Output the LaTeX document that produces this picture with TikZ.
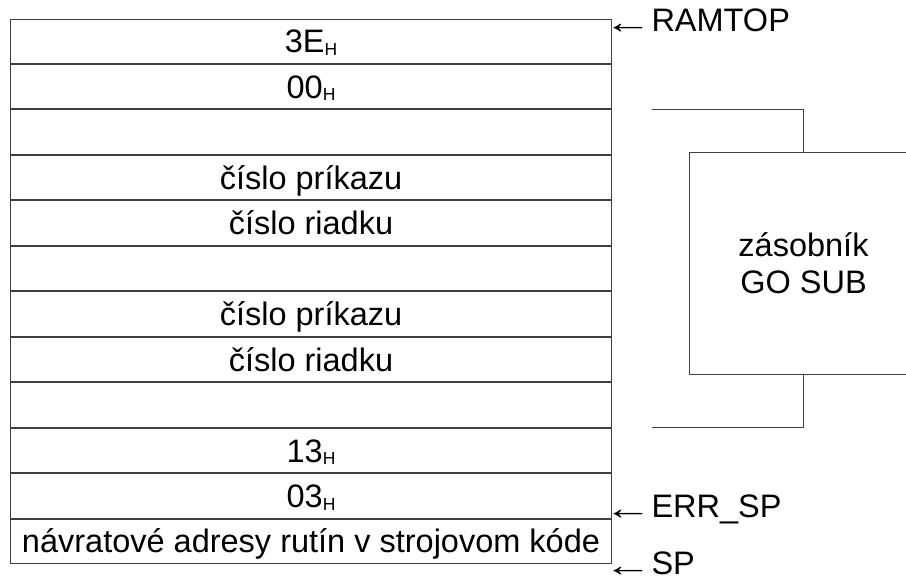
\documentclass[tikz,border=0pt]{standalone}
\usepackage{fontspec}
\setmainfont{Liberation Sans}
\usetikzlibrary{positioning,calc}

% hexadecimal byte with a small H subscript
\newcommand{\hexb}[1]{#1\raisebox{-2.6pt}{\fontsize{17.5}{17.5}\selectfont H}}
% leftward pointer arrow in a fixed-width slot before the label
\newcommand{\ptr}{\makebox[38pt][l]{\hspace*{-10pt}\raisebox{-2pt}{\scalebox{1.5}[1]{←}}}}

\begin{document}
\begin{tikzpicture}[x=1pt,y=-1pt,
    line width=1pt,
    every node/.style={font=\fontsize{32.5}{37}\selectfont},
    cell/.style={draw=black!75, minimum width=601pt, minimum height=44.46pt,
                 inner sep=0pt, text height=23.3pt, text depth=0pt, anchor=north west},
    pointer/.style={anchor=base west, inner sep=0pt},
    link/.style={draw=black!75}]
  \useasboundingbox (0,0) rectangle (906,582);

  % stack cells, from RAMTOP downwards
  \node[cell] (r1) at (10,18.5) {\hexb{3E}};
  \node[cell, below=0pt of r1] (r2) {\hexb{00}};
  \node[cell, below=0pt of r2] (r3) {};
  \node[cell, below=0pt of r3] (r4) {číslo príkazu};
  \node[cell, below=0pt of r4] (r5) {číslo riadku};
  \node[cell, below=0pt of r5] (r6) {};
  \node[cell, below=0pt of r6] (r7) {číslo príkazu};
  \node[cell, below=0pt of r7] (r8) {číslo riadku};
  \node[cell, below=0pt of r8] (r9) {};
  \node[cell, below=0pt of r9] (r10) {\hexb{13}};
  \node[cell, below=0pt of r10] (r11) {\hexb{03}};
  \node[cell, below=0pt of r11] (r12) {návratové adresy rutín v strojovom kóde};

  % GO SUB stack box and its bracket
  \node[draw=black!75, minimum width=228pt, minimum height=222pt, align=center,
        anchor=north west, inner sep=0pt] (gs) at (689,152) {zásobník\\GO SUB};
  \draw[link] ($(r3.north east)+(40,0)$) -| (gs.north);
  \draw[link] ($(r9.south east)+(40,0)$) -| (gs.south);

  % pointers
  \node[pointer] (ramtop) at (613,31) {\ptr RAMTOP};
  \node[pointer] (errsp) at (613,517) {\ptr ERR\_SP};
  \node[pointer] (sp) at (613,574) {\ptr SP};
\end{tikzpicture}
\end{document}
